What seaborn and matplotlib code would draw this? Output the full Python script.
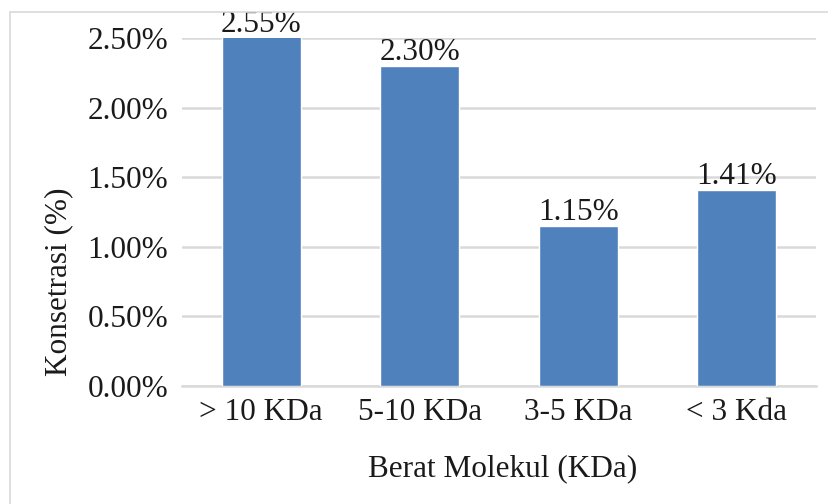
import matplotlib
matplotlib.use("Agg")
import matplotlib.pyplot as plt
from matplotlib.patches import Rectangle
from matplotlib.lines import Line2D
from matplotlib.ticker import FuncFormatter, MultipleLocator
import seaborn as sns
import pandas as pd

# Konsentrasi peptida per fraksi berat molekul
categories = ["> 10 KDa", "5-10 KDa", "3-5 KDa", "< 3 Kda"]
values = [2.55, 2.30, 1.15, 1.41]
y_max = 2.5

sns.set_theme(style="white")
plt.rcParams["font.family"] = ["Liberation Serif", "DejaVu Serif"]

FS = 22.5
TXT = "#1a1a1a"

df = pd.DataFrame({"kategori": categories, "nilai": values})

fig = plt.figure(figsize=(8.29, 5.04), dpi=100)
ax = fig.add_axes([182 / 829, 1 - 386 / 504, 634 / 829, 348 / 504])

sns.barplot(data=df, x="kategori", y="nilai", order=categories,
            color="#4f81bd", saturation=1, width=0.5, ax=ax, zorder=3)

ax.set_ylim(0, y_max)
ax.yaxis.set_major_locator(MultipleLocator(0.5))
ax.yaxis.set_major_formatter(FuncFormatter(lambda v, _: f"{v:.2f}%"))
ax.grid(axis="y", color="#d9d9d9", linewidth=1.8, zorder=0)
ax.set_axisbelow(True)
for s in ["top", "right", "left"]:
    ax.spines[s].set_visible(False)
ax.spines["bottom"].set_color("#d9d9d9")
ax.spines["bottom"].set_linewidth(1.8)

ax.tick_params(axis="both", length=0, labelsize=FS, colors=TXT)
ax.tick_params(axis="y", pad=10)
ax.tick_params(axis="x", pad=9)

ax.set_xlabel("Berat Molekul (KDa)", fontsize=FS, color=TXT, va="center")
ax.set_ylabel("Konsetrasi (%)", fontsize=FS, color=TXT, va="center")
ax.xaxis.set_label_coords(0.505, -0.238)
ax.yaxis.set_label_coords(-0.195, 0.30)

# value labels above the visible part of each bar
for i, v in enumerate(values):
    ax.annotate(f"{v:.2f}%", (i, min(v, y_max)), xytext=(0, -1),
                textcoords="offset points", ha="center", va="bottom",
                fontsize=FS, color=TXT, annotation_clip=False,
                zorder=4)

# chart frame, hiding anything that spills over its top edge
fig.patches.append(Rectangle((0, 1 - 12 / 504), 1, 12 / 504,
                             transform=fig.transFigure, facecolor="white",
                             edgecolor="none", zorder=10))
fig.lines.append(Line2D([10 / 829, 1], [1 - 12 / 504, 1 - 12 / 504],
                        transform=fig.transFigure, color="#d9d9d9",
                        linewidth=1.2, zorder=11))
fig.lines.append(Line2D([10 / 829, 10 / 829], [0, 1 - 12 / 504],
                        transform=fig.transFigure, color="#d9d9d9",
                        linewidth=1.2, zorder=11))

fig.savefig("out.png", dpi=100, facecolor="white")
